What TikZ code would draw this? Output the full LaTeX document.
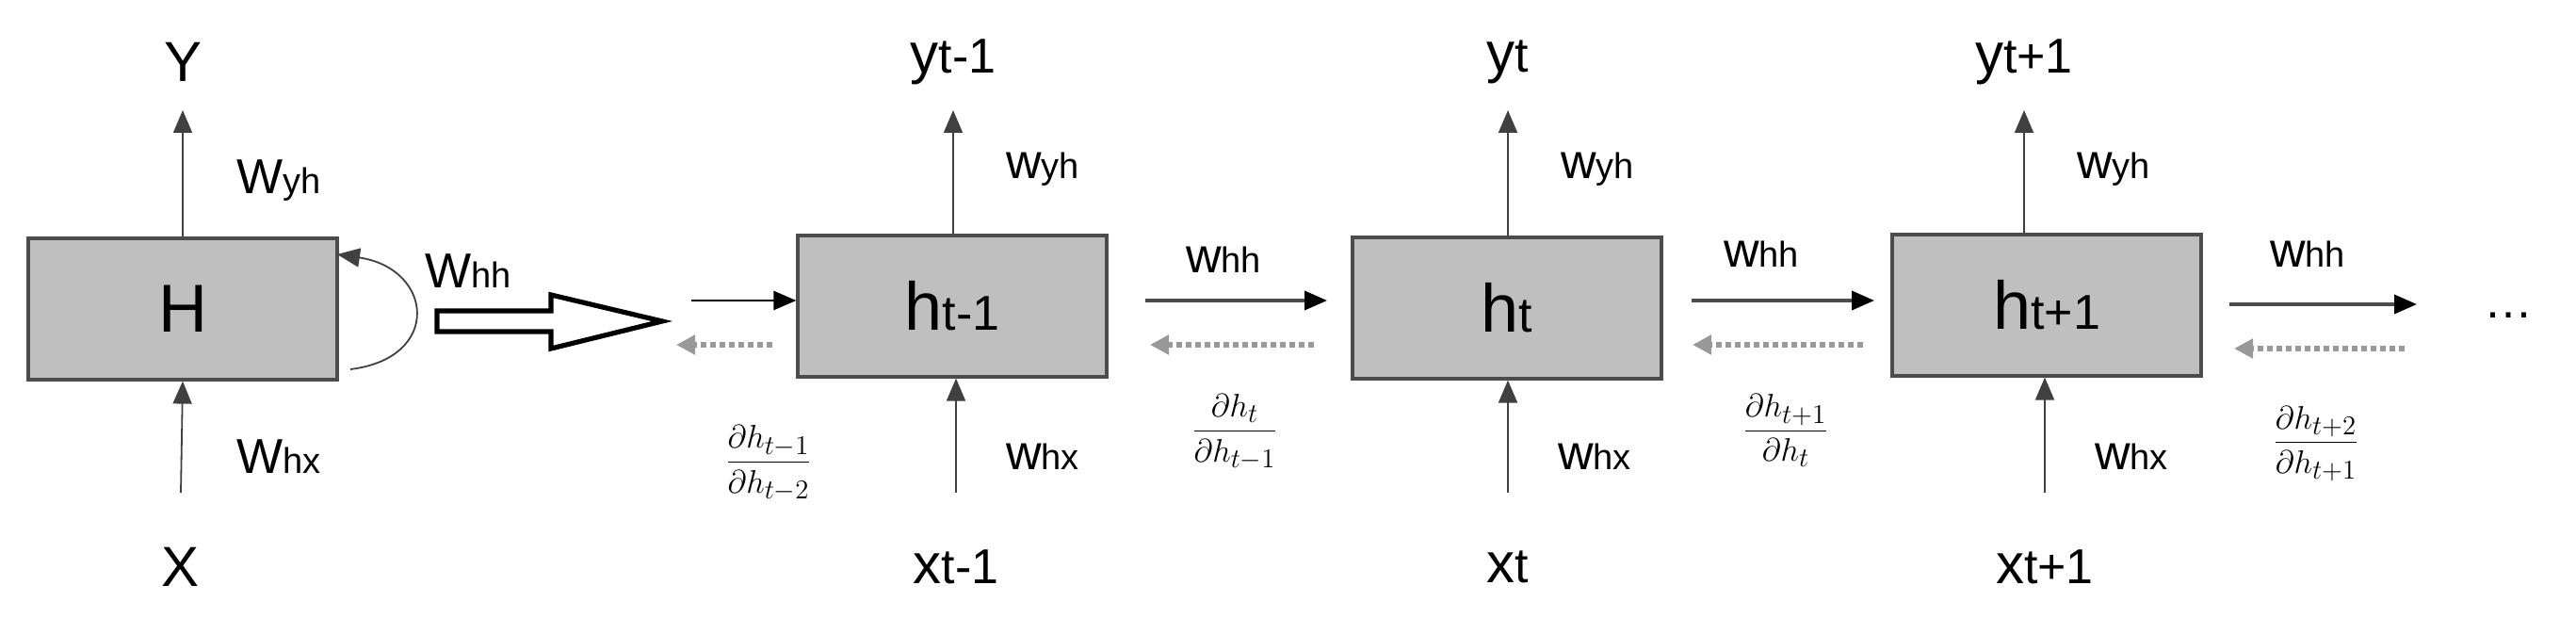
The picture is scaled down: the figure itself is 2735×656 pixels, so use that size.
\documentclass[tikz,border=0pt]{standalone}
\usepackage{fontspec}
\setmainfont{Liberation Sans}
\usetikzlibrary{arrows.meta}
\begin{document}
\begin{tikzpicture}[x=0.5pt,y=-0.5pt,
 box/.style={draw=black!70,line width=1.6pt,fill=black!25,minimum width=164pt,minimum height=75pt,inner sep=0pt,font=\fontsize{36}{40}\selectfont},
 vt/.style={draw=black!75,line width=0.9pt,-{Triangle[length=12pt,width=10pt]}},
 ht/.style={draw=black!70,line width=1.8pt,-{Triangle[length=12pt,width=10pt,color=black]}},
 bk/.style={draw=black!40,line width=3pt,dash pattern=on 3pt off 2pt,-{Triangle[length=10pt,width=10pt,color=black!40]}},
 lbl/.style={inner sep=0pt,font=\fontsize{26}{30}\selectfont},
 io/.style={inner sep=0pt,font=\fontsize{30}{34}\selectfont},
 fr/.style={inner sep=0pt,font=\fontsize{19}{22}\selectfont}]
\useasboundingbox (0,0) rectangle (2735,656);
\newcommand{\smsub}[1]{{\fontsize{19}{20}\selectfont #1}}
\newcommand{\bgsub}[1]{{\fontsize{26}{28}\selectfont #1}}
% folded
\node[box] (H) at (194,328) {H};
\coordinate (Htip) at (194,117);
\coordinate (Hbase) at (192,523);
\draw[vt] (H.north) -- (Htip);
\draw[vt] (Hbase) -- (H.south);
\node[io] (Y) at (195,66) {Y};
\node[io] (X) at (192,602) {X};
\node[lbl] (wyh0) at (296,192) {W\smsub{yh}};
\node[lbl] (whx0) at (296,485) {W\smsub{hx}};
\node[lbl] (whh0) at (497,288) {W\smsub{hh}};
\coordinate (loopa) at (372,392);
\coordinate (loopb) at (358,270);
\draw[draw=black!75,line width=0.9pt,-{Triangle[length=12pt,width=10pt]}] (loopa) .. controls (470,380) and (460,285) .. (loopb);
\draw[line width=2.6pt,line join=miter] (464,330) -- (585,330) -- (585,313) -- (703,341) -- (585,370) -- (585,352) -- (464,352) -- cycle;
% unrolled
\node[box] (h1) at (1011,325) {h\bgsub{t-1}};
\node[box] (h2) at (1600,327) {h\bgsub{t}};
\node[box] (h3) at (2173,324) {h\bgsub{t+1}};
\foreach \n/\x/\t/\xx in {h1/1012/t-1/1015, h2/1601/t/1601, h3/2149/t+1/2171}{
  \coordinate (\n tip) at (\x,117);
  \coordinate (\n base) at (\xx,523);
  \draw[vt] (\n.north -| \n tip) -- (\n tip);
  \draw[vt] (\n base) -- (\n.south -| \n base);
  \node[io] (\n y) at (\x,66) {y\bgsub{\t}};
  \node[io] (\n x) at (\xx,602) {x\bgsub{\t}};
  \node[lbl] (\n wyh) at (\x+95,180) {w\smsub{yh}};
  \node[lbl] (\n whx) at (\xx+92,485) {w\smsub{hx}};
}
% left incoming
\coordinate (inA) at (734,319);
\coordinate (inB) at (718,366);
\coordinate (inC) at (820,366);
\draw[draw=black,line width=1.2pt,-{Triangle[length=12pt,width=10pt]}] (inA) -- (h1.west |- inA);
\draw[bk] (inC) -- (inB);
\node[fr] (f0) at (816,492) {$\displaystyle\frac{\partial h_{t-1}}{\partial h_{t-2}}$};
% between
\coordinate (a1) at (1216,319); \coordinate (a1e) at (1409,319);
\draw[ht] (a1) -- (a1e);
\coordinate (b1s) at (1395,366); \coordinate (b1e) at (1221,366);
\draw[bk] (b1s) -- (b1e);
\node[lbl] (w12) at (1299,276) {w\smsub{hh}};
\node[fr] (f1) at (1311,459) {$\displaystyle\frac{\partial h_{t}}{\partial h_{t-1}}$};
\coordinate (a2) at (1796,319); \coordinate (a2e) at (1990,319);
\draw[ht] (a2) -- (a2e);
\coordinate (b2s) at (1978,366); \coordinate (b2e) at (1797,366);
\draw[bk] (b2s) -- (b2e);
\node[lbl] (w23) at (1870,270) {w\smsub{hh}};
\node[fr] (f2) at (1896,457) {$\displaystyle\frac{\partial h_{t+1}}{\partial h_{t}}$};
\coordinate (a3) at (2367,323); \coordinate (a3e) at (2566,323);
\draw[ht] (a3) -- (a3e);
\coordinate (b3s) at (2553,370); \coordinate (b3e) at (2372,370);
\draw[bk] (b3s) -- (b3e);
\node[lbl] (w34) at (2450,270) {w\smsub{hh}};
\node[fr] (f3) at (2459,471) {$\displaystyle\frac{\partial h_{t+2}}{\partial h_{t+1}}$};
\node[lbl] (dots) at (2663,335) {\dots};
\end{tikzpicture}
\end{document}
